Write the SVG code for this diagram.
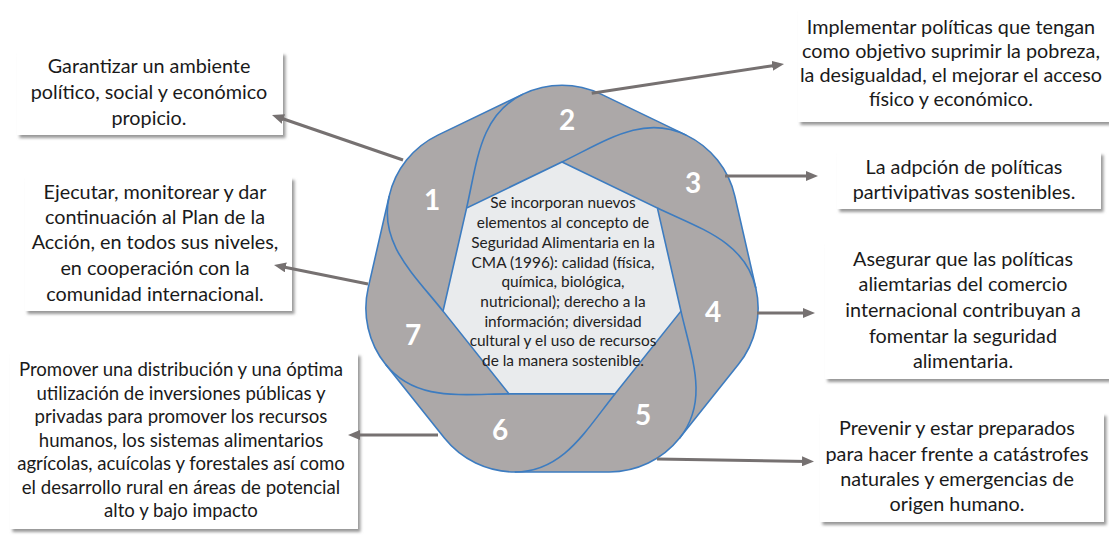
<svg xmlns="http://www.w3.org/2000/svg" xmlns:xlink="http://www.w3.org/1999/xlink" width="1109" height="544" viewBox="0 0 1109 544">
<defs>
<style>
.box{fill:#ffffff;filter:url(#sh)}
.t{font-family:Lato,"Liberation Sans",sans-serif;font-size:19.8px;fill:#1a1a1a;text-anchor:middle}
.t7{font-size:18.6px}
.ct{font-family:Lato,"Liberation Sans",sans-serif;font-size:15.4px;fill:#222222;text-anchor:middle}
.num{font-family:Lato,"Liberation Sans",sans-serif;font-size:28px;font-weight:700;fill:#ffffff;text-anchor:middle}
.blade{fill:none;stroke:#3d7cc0;stroke-width:1.6}
.conn{fill:none;stroke:#767171;stroke-width:3;marker-end:url(#ah)}
</style>
<filter id="sh" x="-5%" y="-5%" width="115%" height="125%">
<feDropShadow dx="2.5" dy="3" stdDeviation="1.5" flood-color="#7f7f7f" flood-opacity="0.8"/>
</filter>
<marker id="ah" viewBox="0 0 12 10" refX="6" refY="5" markerWidth="12" markerHeight="10" markerUnits="userSpaceOnUse" orient="auto">
<path d="M0 0 L12 5 L0 10 z" fill="#767171"/>
</marker>
<path id="c0" class="blade" d="M562 162 C605.25 141.17 642.9 114.27 686.15 135.1"/>
</defs>
<rect width="1109" height="544" fill="#ffffff"/>

<g id="wheel">
<path d="M601.05 94.1 L686.15 135.1 A90 90 0 0 1 734.84 196.15 L755.86 288.15 A90 90 0 0 1 738.48 364.28 L679.62 438.12 A90 90 0 0 1 609.26 472 L514.74 472 A90 90 0 0 1 444.38 438.12 L385.52 364.28 A90 90 0 0 1 368.14 288.15 L389.16 196.15 A90 90 0 0 1 437.85 135.1 L522.95 94.1 A90 90 0 0 1 601.05 94.1 Z" fill="#aca8a8" stroke="#3d7cc0" stroke-width="1.6"/>
<use xlink:href="#c0" href="#c0"/>
<use xlink:href="#c0" href="#c0" transform="rotate(51.4286 562 284)"/>
<use xlink:href="#c0" href="#c0" transform="rotate(102.8571 562 284)"/>
<use xlink:href="#c0" href="#c0" transform="rotate(154.2857 562 284)"/>
<use xlink:href="#c0" href="#c0" transform="rotate(205.7143 562 284)"/>
<use xlink:href="#c0" href="#c0" transform="rotate(257.1429 562 284)"/>
<use xlink:href="#c0" href="#c0" transform="rotate(308.5714 562 284)"/>
<polygon points="562,162 657.38,207.93 680.94,311.15 614.93,393.92 509.07,393.92 443.06,311.15 466.62,207.93" fill="#e9ebed" stroke="#3d7cc0" stroke-width="1.6"/>
</g>

<g id="numbers">
<text class="num" x="432" y="210">1</text>
<text class="num" x="567" y="130">2</text>
<text class="num" x="693" y="193">3</text>
<text class="num" x="713" y="322">4</text>
<text class="num" x="643" y="425">5</text>
<text class="num" x="500" y="440">6</text>
<text class="num" x="413" y="345">7</text>
</g>

<g id="center">
<text class="ct" x="563" y="208">Se incorporan nuevos</text>
<text class="ct" x="563" y="228">elementos al concepto de</text>
<text class="ct" x="563" y="248">Seguridad Alimentaria en la</text>
<text class="ct" x="563" y="267.5">CMA (1996): calidad (física,</text>
<text class="ct" x="563" y="287">química, biológica,</text>
<text class="ct" x="563" y="306.5">nutricional); derecho a la</text>
<text class="ct" x="563" y="326.5">información; diversidad</text>
<text class="ct" x="563" y="346">cultural y el uso de recursos</text>
<text class="ct" x="563" y="366">de la manera sostenible.</text>
</g>

<g id="box1">
<rect class="box" x="17" y="52" width="266" height="83"/>
<text class="t" x="149" y="73">Garantizar un ambiente</text>
<text class="t" x="149" y="99">político, social y económico</text>
<text class="t" x="149" y="125">propicio.</text>
</g>

<g id="box2">
<rect class="box" x="25" y="177" width="267" height="134"/>
<text class="t" x="155" y="199">Ejecutar, monitorear y dar</text>
<text class="t" x="155" y="224">continuación al Plan de la</text>
<text class="t" x="155" y="249">Acción, en todos sus niveles,</text>
<text class="t" x="155" y="275">en cooperación con la</text>
<text class="t" x="155" y="301">comunidad internacional.</text>
</g>

<g id="box3">
<rect class="box" x="798" y="10" width="311" height="112"/>
<text class="t" x="951" y="34">Implementar políticas que tengan</text>
<text class="t" x="951" y="58">como objetivo suprimir la pobreza,</text>
<text class="t" x="951" y="82">la desigualdad, el mejorar el acceso</text>
<text class="t" x="951" y="106">físico y económico.</text>
</g>

<g id="box4">
<rect class="box" x="837" y="152" width="264" height="57"/>
<text class="t" x="964" y="174">La adpción de políticas</text>
<text class="t" x="964" y="199">partivipativas sostenibles.</text>
</g>

<g id="box5">
<rect class="box" x="825" y="243" width="284" height="136"/>
<text class="t" x="963" y="266">Asegurar que las políticas</text>
<text class="t" x="963" y="291">aliemtarias del comercio</text>
<text class="t" x="963" y="317">internacional contribuyan a</text>
<text class="t" x="963" y="343">fomentar la seguridad</text>
<text class="t" x="963" y="368">alimentaria.</text>
</g>

<g id="box6">
<rect class="box" x="820" y="413" width="284" height="109"/>
<text class="t" x="957" y="435">Prevenir y estar preparados</text>
<text class="t" x="957" y="461">para hacer frente a catástrofes</text>
<text class="t" x="957" y="486">naturales y emergencias de</text>
<text class="t" x="957" y="511">origen humano.</text>
</g>

<g id="box7">
<rect class="box" x="10" y="353" width="348" height="176"/>
<text class="t t7" x="181" y="376">Promover una distribución y una óptima</text>
<text class="t t7" x="181" y="399.5">utilización de inversiones públicas y</text>
<text class="t t7" x="181" y="423">privadas para promover los recursos</text>
<text class="t t7" x="181" y="446.5">humanos, los sistemas alimentarios</text>
<text class="t t7" x="181" y="470">agrícolas, acuícolas y forestales así como</text>
<text class="t t7" x="181" y="493.5">el desarrollo rural en áreas de potencial</text>
<text class="t t7" x="181" y="517">alto y bajo impacto</text>
</g>

<g id="connectors">
<line class="conn" x1="403" y1="160" x2="277.7" y2="117"/>
<line class="conn" x1="591.7" y1="93.3" x2="778.1" y2="64.9"/>
<line class="conn" x1="725" y1="176" x2="812" y2="176"/>
<line class="conn" x1="757" y1="313" x2="809" y2="313"/>
<line class="conn" x1="657" y1="459" x2="808" y2="461.4"/>
<line class="conn" x1="438" y1="435" x2="354" y2="435"/>
<line class="conn" x1="368" y1="284" x2="279.9" y2="266.2"/>
</g>
</svg>
